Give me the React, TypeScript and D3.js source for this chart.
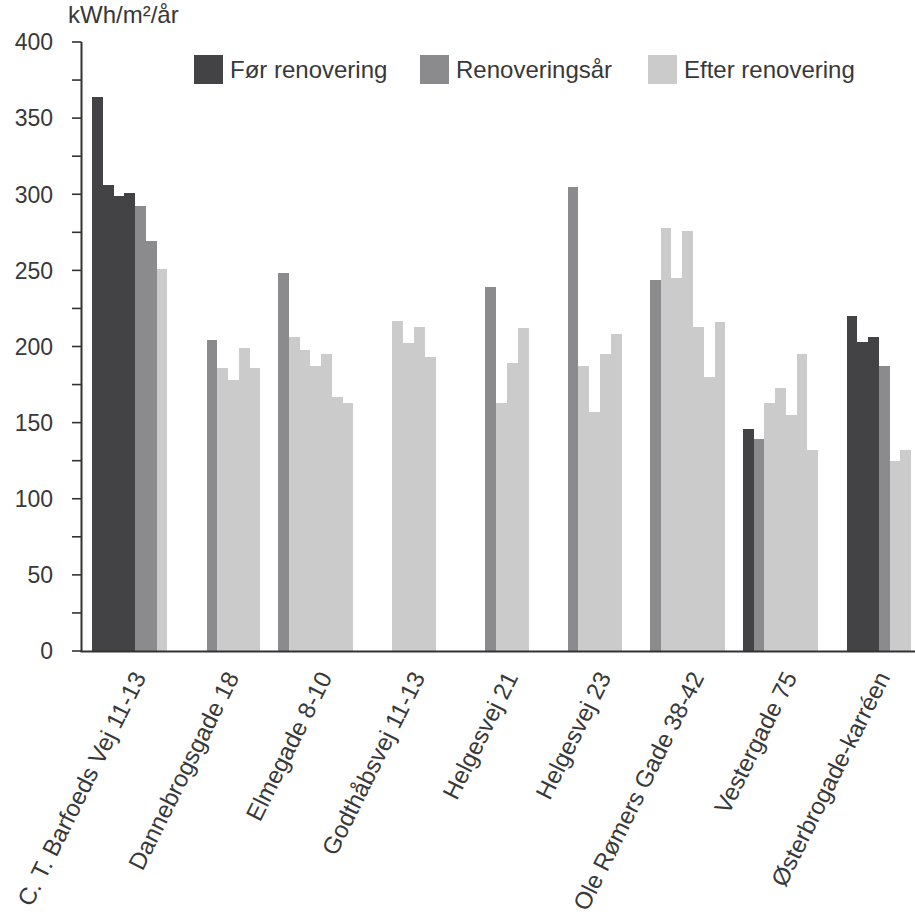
import React from "react";
import * as d3 from "d3";

const buildings = [
  "C. T. Barfoeds Vej 11-13",
  "Dannebrogsgade 18",
  "Elmegade 8-10",
  "Godthåbsvej 11-13",
  "Helgesvej 21",
  "Helgesvej 23",
  "Ole Rømers Gade 38-42",
  "Vestergade 75",
  "Østerbrogade-karréen",
];
const yearSlots = ["1", "2", "3", "4", "5", "6", "7"];
const seriesNames = ["Før renovering", "Renoveringsår", "Efter renovering"];
const seriesColors = ["#434345", "#8b8b8d", "#cbcbcb"];

// kWh/m²/år per building and year slot (null = no bar)
const foerRenovering: (number | null)[][] = [
  [364, 306, 299, 301, null, null, null],
  [null, null, null, null, null, null, null],
  [null, null, null, null, null, null, null],
  [null, null, null, null, null, null, null],
  [null, null, null, null, null, null, null],
  [null, null, null, null, null, null, null],
  [null, null, null, null, null, null, null],
  [146, null, null, null, null, null, null],
  [null, 220, 203, 206, null, null, null],
];
const renoveringsaar: (number | null)[][] = [
  [null, null, null, null, 292, 269, null],
  [null, null, 204, null, null, null, null],
  [248, null, null, null, null, null, null],
  [null, null, null, null, null, null, null],
  [null, null, 239, null, null, null, null],
  [null, 305, null, null, null, null, null],
  [244, null, null, null, null, null, null],
  [null, 139, null, null, null, null, null],
  [null, null, null, null, 187, null, null],
];
const efterRenovering: (number | null)[][] = [
  [null, null, null, null, null, null, 251],
  [null, null, null, 186, 178, 199, 186],
  [null, 206, 198, 187, 195, 167, 163],
  [null, null, 217, 202, 213, 193, null],
  [null, null, null, 163, 189, 212, null],
  [null, null, 187, 157, 195, 208, null],
  [null, 278, 245, 276, 213, 180, 216],
  [null, null, 163, 173, 155, 195, 132],
  [null, null, null, null, null, 125, 132],
];
const yTickLabels = [0, 50, 100, 150, 200, 250, 300, 350, 400];
const yMinorTicks = [0, 25, 50, 75, 100, 125, 150, 175, 200, 225, 250, 275, 300, 325, 350, 375, 400];
const yUnit = "kWh/m²/år";

const W = 915;
const H = 917;
const FONT = "'Liberation Sans', Arial, Helvetica, sans-serif";
const TXT = "#383838";

export default function App() {
  const x = d3.scaleBand<string>().domain(buildings).range([92, 911.25]).paddingInner(0.19).paddingOuter(0);
  const xi = d3.scaleBand<string>().domain(yearSlots).range([0, x.bandwidth()]);
  const y = d3.scaleLinear().domain([0, 400]).range([651, 42]);
  const axisX = 81.5;

  const allSeries = [foerRenovering, renoveringsaar, efterRenovering];
  const bars: { key: string; x: number; y: number; w: number; h: number; fill: string }[] = [];
  allSeries.forEach((series, s) => {
    series.forEach((vals, b) => {
      vals.forEach((v, k) => {
        if (v == null) return;
        bars.push({
          key: `${s}-${b}-${k}`,
          x: (x(buildings[b]) as number) + (xi(yearSlots[k]) as number),
          y: y(v),
          w: xi.bandwidth(),
          h: y(0) - y(v),
          fill: seriesColors[s],
        });
      });
    });
  });

  const legendX = [194, 420, 648];

  return (
    <div style={{ position: "fixed", left: 0, top: 0, width: W, height: H, background: "#fff" }}>
      <svg width={W} height={H} style={{ display: "block" }} fontFamily={FONT}>
        <rect x={0} y={0} width={W} height={H} fill="#ffffff" />
        {/* unit label */}
        <text x={68} y={23} fontSize={24} fill={TXT}>{yUnit}</text>

        {/* bars */}
        <g shapeRendering="crispEdges">
          {bars.map((d) => (
            <rect key={d.key} x={d.x} y={d.y} width={d.w} height={d.h} fill={d.fill} />
          ))}
        </g>

        {/* y axis */}
        <line x1={axisX} x2={axisX} y1={y(400)} y2={y(0) + 1} stroke="#333" strokeWidth={2} />
        {yMinorTicks.map((t) => (
          <line key={t} x1={72} x2={axisX} y1={y(t)} y2={y(t)} stroke="#333" strokeWidth={1.6} />
        ))}
        {yTickLabels.map((t) => (
          <text key={t} x={53} y={y(t)} dy="0.36em" textAnchor="end" fontSize={23} fill={TXT}>
            {t}
          </text>
        ))}

        {/* x axis */}
        <line x1={axisX - 1} x2={W} y1={y(0) + 0.5} y2={y(0) + 0.5} stroke="#333" strokeWidth={2} />
        {buildings.map((b) => {
          const cx = (x(b) as number) + x.bandwidth() / 2 + 17;
          return (
            <text
              key={b}
              transform={`translate(${cx},677) rotate(-63.5)`}
              textAnchor="end"
              fontSize={24}
              fill={TXT}
            >
              {b}
            </text>
          );
        })}

        {/* legend */}
        {seriesNames.map((n, i) => (
          <g key={n} transform={`translate(${legendX[i]},55)`}>
            <rect x={0} y={0} width={29} height={29} fill={seriesColors[i]} />
            <text x={36} y={23} fontSize={24} fill={TXT}>{n}</text>
          </g>
        ))}
      </svg>
    </div>
  );
}
